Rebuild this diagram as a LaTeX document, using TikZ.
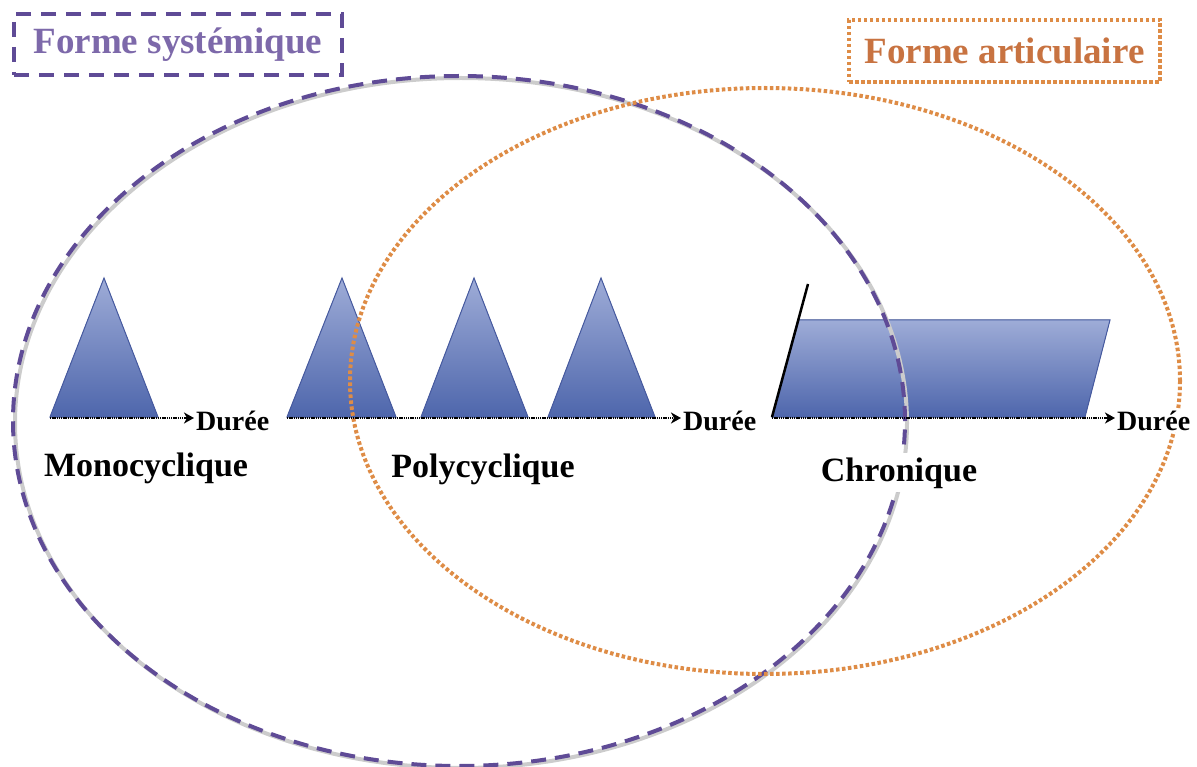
\documentclass[tikz,border=0pt]{standalone}
\usepackage{fontspec}
\setmainfont{Liberation Serif}
\usetikzlibrary{shapes.geometric,arrows.meta}
\definecolor{purp}{RGB}{95,75,150}
\definecolor{purptext}{RGB}{125,105,170}
\definecolor{orng}{RGB}{222,140,70}
\definecolor{orngtext}{RGB}{200,115,65}
\definecolor{blueTop}{RGB}{158,172,215}
\definecolor{blueBot}{RGB}{78,102,172}
\definecolor{blueEdge}{RGB}{70,90,160}
\tikzset{
  shape3d/.style={draw=blueEdge, line width=1pt, top color=blueTop, bottom color=blueBot},
  durarrow/.style={black, line width=2.6pt, dash pattern=on 1.3pt off 0.9pt, -{Stealth[length=10pt,width=11pt,inset=3pt]}},
  duree/.style={font=\bfseries\fontsize{28}{28}\selectfont, inner sep=2pt},
  biglabel/.style={font=\bfseries\fontsize{34}{34}\selectfont, fill=white, inner sep=4pt},
  sysell/.style={ellipse, draw=purp, line width=4pt, dash pattern=on 15pt off 9pt, inner sep=0pt},
  artell/.style={ellipse, draw=orng, line width=4pt, dash pattern=on 3.5pt off 2.5pt, inner sep=0pt},
  shadowell/.style={ellipse, draw=gray!40, line width=4pt, inner sep=0pt},
  sysbox/.style={draw=purp, line width=3.5pt, dash pattern=on 15pt off 10pt, text=purptext, font=\bfseries\fontsize{37}{37}\selectfont, minimum width=328pt, minimum height=61pt, inner sep=0pt},
  artbox/.style={draw=orng, line width=3.5pt, dash pattern=on 3.5pt off 2.5pt, text=orngtext, font=\bfseries\fontsize{37}{37}\selectfont, minimum width=311pt, minimum height=62pt, inner sep=0pt}
}
\begin{document}
\begin{tikzpicture}[x=1pt,y=-1pt]
\useasboundingbox (0,0) rectangle (1197,767);
% triangles
\fill[shape3d] (50,417) -- (104,278) -- (158,417) -- cycle;
\fill[shape3d] (287,417) -- (342,278) -- (396,417) -- cycle;
\fill[shape3d] (421,417) -- (474,278) -- (528,417) -- cycle;
\fill[shape3d] (548,417) -- (601,278) -- (655,417) -- cycle;
% parallelogram
\fill[shape3d] (772,417) -- (799,320) -- (1110,320) -- (1085,417) -- cycle;
\draw[black, line width=2.5pt] (772,417) -- (808,284);
% axis coordinates
\coordinate (a1) at (50,418);
\coordinate (a2) at (287,418);
\coordinate (a3) at (772,418);
% Durée labels
\node[duree, anchor=base west] (d1) at (194,430) {Durée};
\node[duree, anchor=base west] (d2) at (681,430) {Durée};
% ellipses (shadow then line)
\node[shadowell, minimum width=892pt, minimum height=690pt] (sysS) at (461,423) {};
\node[sysell, minimum width=892pt, minimum height=690pt] (sys) at (459,421) {};
\node[artell, minimum width=830pt, minimum height=586pt] (art) at (765,381) {};
% arrows
\draw[durarrow] (a1) -- (d1.west |- a1);
\draw[durarrow] (a2) -- (d2.west |- a2);
\node[duree, anchor=base west, fill=white] (d3) at (1115,430) {Durée};
\draw[durarrow] (a3) -- (d3.west |- a3);
% big labels
\node[biglabel, anchor=base] (mono) at (146,476) {Monocyclique};
\node[biglabel, anchor=base] (poly) at (483,477) {Polycyclique};
\node[biglabel, anchor=base] (chro) at (899,481) {Chronique};
% title boxes
\node[sysbox] (sysT) at (178,44.5) {Forme systémique};
\node[artbox] (artT) at (1004.5,51) {Forme articulaire};
\end{tikzpicture}
\end{document}
